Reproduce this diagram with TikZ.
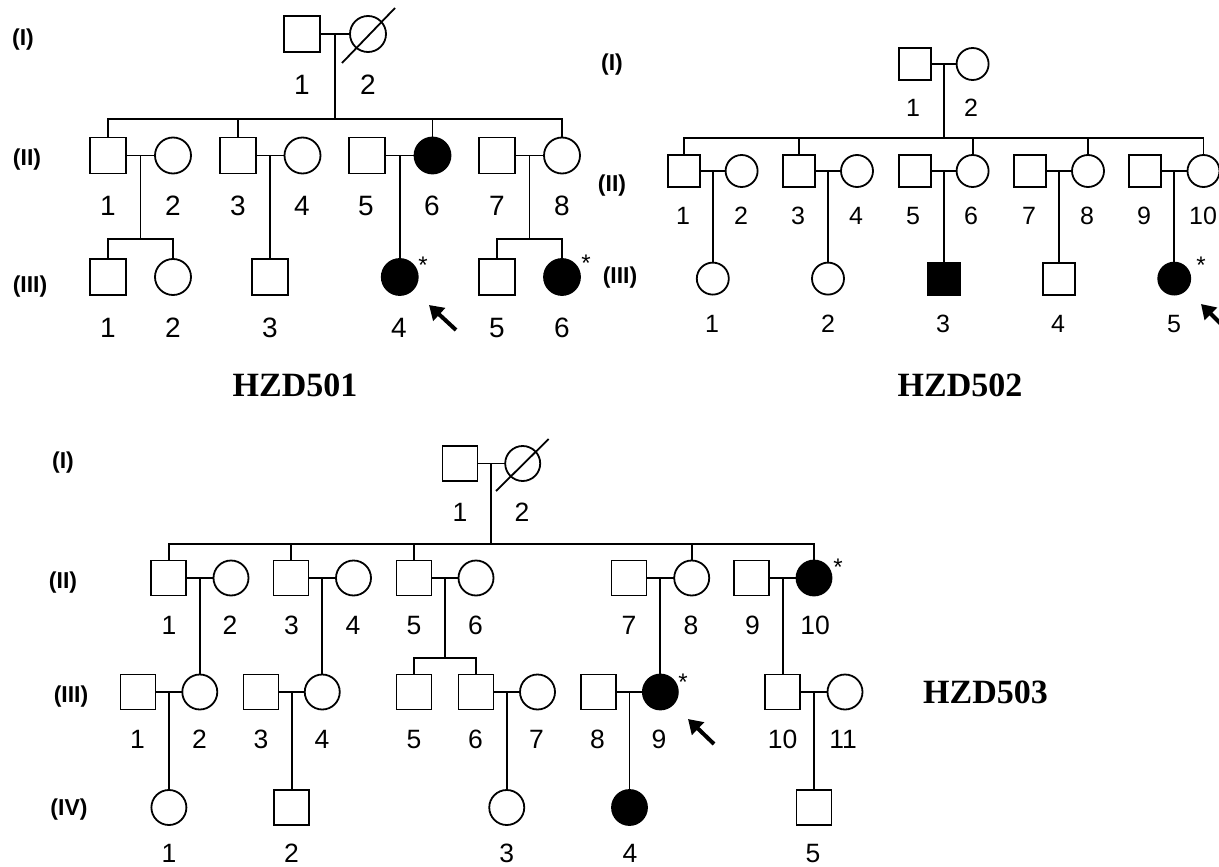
\documentclass[tikz,border=0pt]{standalone}
\usepackage{fontspec}
\setmainfont{Liberation Sans}
\newfontfamily\serifb{Liberation Serif}
\usetikzlibrary{calc,arrows.meta}
\begin{document}
\begin{tikzpicture}[x=1pt,y=-1pt,line width=1.8pt,
  ind/.style={draw,inner sep=0pt,outer sep=0pt,line width=1.8pt},
  male/.style={ind,rectangle,minimum width=#1,minimum height=#1},
  female/.style={ind,circle,minimum size=#1},
  aff/.style={fill=black},
  numA/.style={inner sep=0pt,anchor=base,yshift=-10pt,font=\fontsize{28}{30}\selectfont},
  numB/.style={inner sep=0pt,anchor=base,yshift=-9pt,font=\fontsize{25}{27}\selectfont},
  numC/.style={inner sep=0pt,anchor=base,yshift=-9.5pt,font=\fontsize{26.5}{28}\selectfont},
  genlab/.style={inner sep=0pt,font=\bfseries\fontsize{23}{25}\selectfont},
  famlab/.style={inner sep=0pt,font=\serifb\bfseries\fontsize{34}{36}\selectfont},
  starlab/.style={inner sep=0pt,anchor=base,font=\fontsize{24}{26}\selectfont},
  parrow/.style={line width=4pt,-{Triangle[length=14pt,width=17pt]}}]
\useasboundingbox (0,0) rectangle (1219,867);
\clip (0,0) rectangle (1219,867);

% ================= HZD501 =================
\node[genlab] (ga1) at (23,40) {(I)};
\node[genlab] (ga2) at (27,160) {(II)};
\node[genlab] (ga3) at (30,287) {(III)};
\node[famlab] (fa) at (295,385) {HZD501};

\coordinate (ya1) at (0,119);
\coordinate (ya2) at (0,239);

\node[male=36pt] (a11) at (302,34) {};
\node[female=36pt] (a12) at (368,34) {};
\draw ($(a12)+(-26,29)$) -- ($(a12)+(27,-26)$);
\draw (a11) -- (a12);
\coordinate (ua1) at ($(a11.east)!0.5!(a12.west)$);
\draw (ua1) -- (ua1 |- ya1);

\node[male=36pt] (a21) at (108,155.5) {};
\node[female=36pt] (a22) at (173,155.5) {};
\node[male=36pt] (a23) at (238,155.5) {};
\node[female=36pt] (a24) at (302.5,155.5) {};
\node[male=36pt] (a25) at (367,155.5) {};
\node[female=36pt,aff] (a26) at (432.5,155.5) {};
\node[male=36pt] (a27) at (497,155.5) {};
\node[female=36pt] (a28) at (562,155.5) {};
\draw (a21.north) |- (a28.north |- ya1) -- (a28.north);
\draw (a23.north) -- (a23.north |- ya1);
\draw (a26.north) -- (a26.north |- ya1);
\draw (a21) -- (a22);
\draw (a23) -- (a24);
\draw (a25) -- (a26);
\draw (a27) -- (a28);
\coordinate (ua2) at ($(a21.east)!0.5!(a22.west)$);
\coordinate (ua3) at ($(a23.east)!0.5!(a24.west)$);
\coordinate (ua4) at ($(a25.east)!0.5!(a26.west)$);
\coordinate (ua5) at ($(a27.east)!0.5!(a28.west)$);

\node[male=36pt] (a31) at (108,277) {};
\node[female=36pt] (a32) at (173,277) {};
\node[male=36pt] (a33) at (270.25,277) {};
\node[female=36pt,aff] (a34) at (399.75,277) {};
\node[male=36pt] (a35) at (497,277) {};
\node[female=36pt,aff] (a36) at (562,277) {};
\draw (ua2) -- (ua2 |- ya2);
\draw (a31.north) |- (a32.north |- ya2) -- (a32.north);
\draw (ua3) -- (ua3 |- a33.north);
\draw (ua4) -- (ua4 |- a34.north);
\draw (ua5) -- (ua5 |- ya2);
\draw (a35.north) |- (a36.north |- ya2) -- (a36.north);

\node[starlab] (sa1) at (423,273) {*};
\node[starlab] (sa2) at (586,271) {*};
\coordinate (ta1) at (456,330);
\coordinate (ha1) at (429,305);
\draw[parrow] (ta1) -- (ha1);

\node[numA] (la11) at (302,85) {1};
\node[numA] (la12) at (368,85) {2};
\foreach \n/\x in {1/108,2/173,3/238,4/302,5/366,6/432,7/497,8/562}
  \node[numA] (la2\n) at (\x,205) {\n};
\foreach \n/\x in {1/108,2/173,3/270,4/399,5/497,6/562}
  \node[numA] (la3\n) at (\x,327) {\n};

% ================= HZD502 =================
\node[genlab] (gb1) at (612,65) {(I)};
\node[genlab] (gb2) at (612,186) {(II)};
\node[genlab] (gb3) at (620,278) {(III)};
\node[famlab] (fb) at (960,385) {HZD502};

\coordinate (yb1) at (0,138);

\node[male=32pt] (b11) at (914.6,64) {};
\node[female=32pt] (b12) at (972.6,64) {};
\draw (b11) -- (b12);
\coordinate (ub1) at ($(b11.east)!0.5!(b12.west)$);
\draw (ub1) -- (ub1 |- yb1);

\node[male=32pt] (b21) at (684,171) {};
\node[female=32pt] (b22) at (741.6,171) {};
\node[male=32pt] (b23) at (799,171) {};
\node[female=32pt] (b24) at (857,171) {};
\node[male=32pt] (b25) at (914.6,171) {};
\node[female=32pt] (b26) at (972.6,171) {};
\node[male=32pt] (b27) at (1029.6,171) {};
\node[female=32pt] (b28) at (1088,171) {};
\node[male=32pt] (b29) at (1145,171) {};
\node[female=32pt] (b210) at (1203.5,171) {};
\draw (b21.north) |- (b210.north |- yb1) -- (b210.north);
\draw (b23.north) -- (b23.north |- yb1);
\draw (b26.north) -- (b26.north |- yb1);
\draw (b28.north) -- (b28.north |- yb1);
\draw (b21) -- (b22);
\draw (b23) -- (b24);
\draw (b25) -- (b26);
\draw (b27) -- (b28);
\draw (b29) -- (b210);
\coordinate (ub2) at ($(b21.east)!0.5!(b22.west)$);
\coordinate (ub3) at ($(b23.east)!0.5!(b24.west)$);
\coordinate (ub4) at ($(b25.east)!0.5!(b26.west)$);
\coordinate (ub5) at ($(b27.east)!0.5!(b28.west)$);
\coordinate (ub6) at ($(b29.east)!0.5!(b210.west)$);

\node[female=32pt] (b31) at (712.8,278.6) {};
\node[female=32pt] (b32) at (828,278.6) {};
\node[male=32pt,aff] (b33) at (943.6,278.6) {};
\node[male=32pt] (b34) at (1058.8,278.6) {};
\node[female=32pt,aff] (b35) at (1174.25,278.6) {};
\draw (ub2) -- (ub2 |- b31.north);
\draw (ub3) -- (ub3 |- b32.north);
\draw (ub4) -- (ub4 |- b33.north);
\draw (ub5) -- (ub5 |- b34.north);
\draw (ub6) -- (ub6 |- b35.north);

\node[starlab] (sb1) at (1201,273) {*};
\coordinate (tb1) at (1229,332);
\coordinate (hb1) at (1201,304);
\draw[parrow] (tb1) -- (hb1);

\node[numB] (lb11) at (913,108) {1};
\node[numB] (lb12) at (971,108) {2};
\foreach \n/\x in {1/683,2/741,3/798,4/856,5/913,6/971,7/1029,8/1087,9/1144,10/1203}
  \node[numB] (lb2\n) at (\x,215) {\n};
\foreach \n/\x in {1/712,2/828,3/943,4/1058,5/1174}
  \node[numB] (lb3\n) at (\x,323) {\n};

% ================= HZD503 =================
\node[genlab] (gc1) at (63,463) {(I)};
\node[genlab] (gc2) at (63,583) {(II)};
\node[genlab] (gc3) at (71,697) {(III)};
\node[genlab] (gc4) at (69,810) {(IV)};
\node[famlab] (fc) at (985.5,692) {HZD503};

\coordinate (yc1) at (0,544);
\coordinate (yc2) at (0,658);

\node[male=35pt] (c11) at (460,463.5) {};
\node[female=35pt] (c12) at (522.7,463.5) {};
\draw ($(c12)+(-26.7,27.5)$) -- ($(c12)+(26,-24.5)$);
\draw (c11) -- (c12);
\coordinate (uc1) at ($(c11.east)!0.5!(c12.west)$);
\draw (uc1) -- (uc1 |- yc1);

\node[male=35pt] (c21) at (168.6,578) {};
\node[female=35pt] (c22) at (231,578) {};
\node[male=35pt] (c23) at (291,578) {};
\node[female=35pt] (c24) at (353.5,578) {};
\node[male=35pt] (c25) at (414,578) {};
\node[female=35pt] (c26) at (476,578) {};
\node[male=35pt] (c27) at (629,578) {};
\node[female=35pt] (c28) at (691.7,578) {};
\node[male=35pt] (c29) at (751.5,578) {};
\node[female=35pt,aff] (c210) at (814,578) {};
\draw (c21.north) |- (c210.north |- yc1) -- (c210.north);
\draw (c23.north) -- (c23.north |- yc1);
\draw (c25.north) -- (c25.north |- yc1);
\draw (c28.north) -- (c28.north |- yc1);
\draw (c21) -- (c22);
\draw (c23) -- (c24);
\draw (c25) -- (c26);
\draw (c27) -- (c28);
\draw (c29) -- (c210);
\coordinate (uc2) at ($(c21.east)!0.5!(c22.west)$);
\coordinate (uc3) at ($(c23.east)!0.5!(c24.west)$);
\coordinate (uc4) at ($(c25.east)!0.5!(c26.west)$);
\coordinate (uc5) at ($(c27.east)!0.5!(c28.west)$);
\coordinate (uc6) at ($(c29.east)!0.5!(c210.west)$);
\node[starlab] (sc1) at (838,575) {*};

\node[male=35pt] (c31) at (138,692) {};
\node[female=35pt] (c32) at (199.8,692) {};
\node[male=35pt] (c33) at (261,692) {};
\node[female=35pt] (c34) at (322.25,692) {};
\node[male=35pt] (c35) at (414,692) {};
\node[male=35pt] (c36) at (476,692) {};
\node[female=35pt] (c37) at (537.5,692) {};
\node[male=35pt] (c38) at (598.7,692) {};
\node[female=35pt,aff] (c39) at (660.35,692) {};
\node[male=35pt] (c310) at (782.75,692) {};
\node[female=35pt] (c311) at (845,692) {};
\draw (uc2) -- (uc2 |- c32.north);
\draw (uc3) -- (uc3 |- c34.north);
\draw (uc4) -- (uc4 |- yc2);
\draw (c35.north) |- (c36.north |- yc2) -- (c36.north);
\draw (uc5) -- (uc5 |- c39.north);
\draw (uc6) -- (uc6 |- c310.north);
\draw (c31) -- (c32);
\draw (c33) -- (c34);
\draw (c36) -- (c37);
\draw (c38) -- (c39);
\draw (c310) -- (c311);
\coordinate (uc7) at ($(c31.east)!0.5!(c32.west)$);
\coordinate (uc8) at ($(c33.east)!0.5!(c34.west)$);
\coordinate (uc9) at ($(c36.east)!0.5!(c37.west)$);
\coordinate (uc10) at ($(c38.east)!0.5!(c39.west)$);
\coordinate (uc11) at ($(c310.east)!0.5!(c311.west)$);
\node[starlab] (sc2) at (683,690) {*};
\coordinate (tc1) at (714,744);
\coordinate (hc1) at (688,719);
\draw[parrow] (tc1) -- (hc1);

\node[female=35pt] (c41) at (168.9,807.5) {};
\node[male=35pt] (c42) at (291.6,807.5) {};
\node[female=35pt] (c43) at (506.75,807.5) {};
\node[female=35pt,aff] (c44) at (629.5,807.5) {};
\node[male=35pt] (c45) at (813.9,807.5) {};
\draw (uc7) -- (uc7 |- c41.north);
\draw (uc8) -- (uc8 |- c42.north);
\draw (uc9) -- (uc9 |- c43.north);
\draw (uc10) -- (uc10 |- c44.north);
\draw (uc11) -- (uc11 |- c45.north);

\node[numC] (lc11) at (460,512) {1};
\node[numC] (lc12) at (522,512) {2};
\foreach \n/\x in {1/169,2/230,3/291.5,4/353,5/414,6/475.5,7/629,8/691,9/752.5,10/815}
  \node[numC] (lc2\n) at (\x,625) {\n};
\foreach \n/\x in {1/137.5,2/199.6,3/261,4/322,5/414,6/475.5,7/536.5,8/597.6,9/659,10/782.7,11/843}
  \node[numC] (lc3\n) at (\x,739) {\n};
\foreach \n/\x in {1/169,2/291.6,3/506.7,4/630,5/813}
  \node[numC] (lc4\n) at (\x,853) {\n};
\end{tikzpicture}
\end{document}
